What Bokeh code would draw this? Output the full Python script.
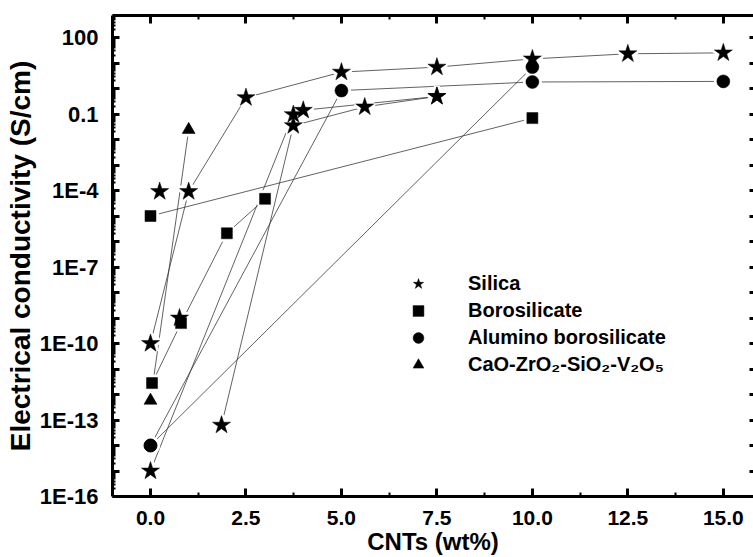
from bokeh.plotting import figure
from bokeh.models import Range1d, LinearAxis, LogAxis, FixedTicker, Legend, LegendItem
from bokeh.embed import file_html
from bokeh.resources import INLINE

# ---------------- data (conductivity in S/cm vs CNT content in wt%) ----------------
silica_a_x = [0, 1, 2.5, 5, 7.5, 10, 12.5, 15]
silica_a_y = [1e-10, 9.1e-5, 0.44, 4.4, 6.9, 14.5, 23, 25]
silica_b_x = [0, 3.74, 4.0, 7.5]
silica_b_y = [1.0e-15, 0.095, 0.14, 0.49]
silica_c_x = [1.86, 3.74, 5.61, 7.5]
silica_c_y = [6.3e-14, 0.035, 0.19, 0.49]
silica_d_x = [0.24]
silica_d_y = [9.1e-5]
silica_e_x = [0.76]
silica_e_y = [1.0e-9]

boro_a_x = [0.04, 0.8, 2, 3]
boro_a_y = [2.8e-12, 6.3e-10, 2.1e-6, 4.7e-5]
boro_b_x = [0, 10]
boro_b_y = [1.0e-5, 0.069]

alumino_a_x = [0, 5, 10, 15]
alumino_a_y = [1.0e-14, 0.83, 1.8, 1.9]
alumino_b_x = [0, 10]
alumino_b_y = [1.0e-14, 6.9]

czsv_x = [0, 1]
czsv_y = [5.8e-13, 0.024]

x_ticks = [0, 2.5, 5, 7.5, 10, 12.5, 15]
x_tick_labels = ["0.0", "2.5", "5.0", "7.5", "10.0", "12.5", "15.0"]
y_label_exponents = [2, -1, -4, -7, -10, -13, -16]
y_tick_labels = ["100", "0.1", "1E-4", "1E-7", "1E-10", "1E-13", "1E-16"]
legend_labels = ["Silica", "Borosilicate", "Alumino borosilicate", "CaO-ZrO\u2082-SiO\u2082-V\u2082O\u2085"]
x_title = "CNTs (wt%)"
y_title = "Electrical conductivity (S/cm)"

# ---------------- figure ----------------
FONT = "Liberation Sans"
X0, X1 = -0.995, 15.79
Y0, Y1 = 1e-16, 10 ** 2.863
p = figure(width=753, height=557, output_backend="svg", toolbar_location=None,
           x_range=Range1d(X0, X1), y_range=Range1d(Y0, Y1),
           y_axis_type="log", min_border_left=112, min_border_right=0,
           min_border_top=15, min_border_bottom=61)
p.outline_line_color = None
p.grid.visible = False
p.background_fill_color = "white"

series = {
    "star": [(silica_a_x, silica_a_y), (silica_b_x, silica_b_y), (silica_c_x, silica_c_y),
             (silica_d_x, silica_d_y), (silica_e_x, silica_e_y)],
    "square": [(boro_a_x, boro_a_y), (boro_b_x, boro_b_y)],
    "circle": [(alumino_a_x, alumino_a_y), (alumino_b_x, alumino_b_y)],
    "triangle": [(czsv_x, czsv_y)],
}
sizes = {"star": 19, "square": 11, "circle": 13, "triangle": 13}

# connecting lines
for marker, lst in series.items():
    for xs, ys in lst:
        if len(xs) > 1:
            p.line(xs, ys, line_color="#3a3a3a", line_width=0.8)

# white gaps around markers
for marker, lst in series.items():
    for xs, ys in lst:
        p.scatter(xs, ys, marker=marker, size=sizes[marker], fill_color="white",
                  line_color="white", line_width=6)

# markers
legend_renderers = {}
for marker, lst in series.items():
    for xs, ys in lst:
        r = p.scatter(xs, ys, marker=marker, size=sizes[marker], fill_color="black",
                      line_color="black", line_width=0.5)
        legend_renderers.setdefault(marker, r)

# ---------------- axes ----------------
decades = [10.0 ** k for k in range(-16, 3)]
minor = [m * 10.0 ** k for k in range(-16, 3) for m in range(2, 10)]
overrides = {10.0 ** k: "" for k in range(-16, 3)}
for e, lab in zip(y_label_exponents, y_tick_labels):
    overrides[10.0 ** e] = lab

xminor = [v for v in [-1.25 + 1.25 * i for i in range(15)] if X0 < v < X1]

def style(ax, w=3):
    ax.axis_line_width = w
    ax.axis_line_color = "black"
    ax.major_tick_line_width = 3
    ax.minor_tick_line_width = 2
    ax.major_tick_out = 0
    ax.minor_tick_out = 0
    ax.major_label_text_font = FONT
    ax.major_label_text_font_style = "bold"
    ax.major_label_text_color = "black"
    ax.axis_label_text_font = FONT
    ax.axis_label_text_font_style = "bold"
    ax.axis_label_text_color = "black"

xa = p.xaxis[0]
xa.ticker = FixedTicker(ticks=x_ticks, minor_ticks=xminor)
xa.major_label_overrides = {t: l for t, l in zip(x_ticks, x_tick_labels)}
style(xa)
xa.major_tick_in = 8
xa.minor_tick_in = 4
xa.major_label_text_font_size = "21px"
xa.major_label_standoff = 14
xa.axis_label = x_title
xa.axis_label_text_font_size = "24px"
xa.axis_label_standoff = 0

ya = p.yaxis[0]
ya.ticker = FixedTicker(ticks=decades, minor_ticks=minor)
ya.major_label_overrides = overrides
style(ya)
ya.major_tick_in = 7
ya.minor_tick_in = 3
ya.major_label_text_font_size = "22px"
ya.major_label_standoff = 14
ya.axis_label = y_title
ya.axis_label_text_font_size = "28px"
ya.axis_label_standoff = 1

top = LinearAxis(ticker=FixedTicker(ticks=x_ticks, minor_ticks=xminor))
style(top)
top.major_tick_in = 8
top.minor_tick_in = 4
top.major_label_text_color = None
top.major_label_standoff = 0
p.add_layout(top, "above")

right = LogAxis(ticker=FixedTicker(ticks=decades, minor_ticks=[]))
style(right)
right.axis_line_color = None
right.major_tick_in = 4
right.major_label_text_color = None
right.major_label_standoff = 0
p.add_layout(right, "right")

# ---------------- legend ----------------
legend = Legend(items=[LegendItem(label=lab, renderers=[legend_renderers[m]])
                       for lab, m in zip(legend_labels, ["star", "square", "circle", "triangle"])],
                location=(290, 118), orientation="vertical",
                glyph_width=32, glyph_height=27, spacing=0, padding=0, margin=0,
                label_standoff=34, border_line_color=None, background_fill_alpha=0,
                label_text_font=FONT, label_text_font_style="bold",
                label_text_font_size="20px", label_text_color="black")
p.add_layout(legend)

open("out.html", "w").write(file_html(p, INLINE))
